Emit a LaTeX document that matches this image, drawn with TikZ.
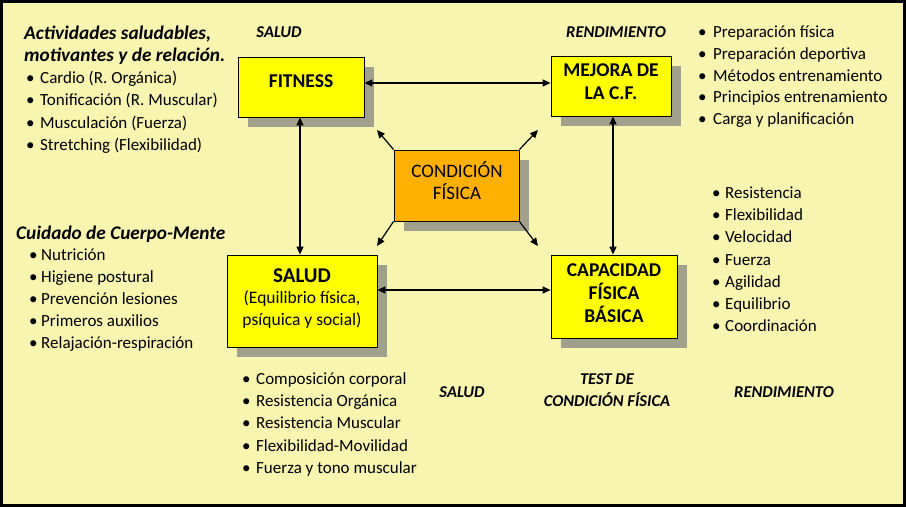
\documentclass[tikz,border=0pt]{standalone}
\usepackage{fontspec}
\setmainfont{Carlito}
\usetikzlibrary{arrows.meta,shadows}
\definecolor{bg}{RGB}{247,245,176}
\definecolor{boxyellow}{RGB}{255,255,0}
\definecolor{boxorange}{RGB}{255,176,0}
\definecolor{shadowgray}{RGB}{160,160,140}
\tikzset{
  cbox/.style={draw=black, line width=0.8pt, fill=boxyellow, inner sep=0pt,
    drop shadow={shadow xshift=10pt, shadow yshift=-10pt, fill=shadowgray, opacity=1}},
  btxt/.style={anchor=base, inner sep=0pt},
  conn/.style={line width=1.2pt, {Triangle[length=8pt,width=7pt]}-{Triangle[length=8pt,width=7pt]}},
  diag/.style={line width=1.2pt, -{Triangle[length=8pt,width=7pt]}},
  item/.style={anchor=base west, inner sep=0pt, font=\fontsize{17}{20}\selectfont},
  head/.style={anchor=base west, inner sep=0pt, font=\fontsize{19.3}{22}\selectfont\bfseries\itshape},
  lbl/.style={anchor=base, inner sep=0pt, font=\fontsize{16.5}{20}\selectfont\bfseries\itshape}
}
\newcommand{\boxlines}[1]{\begin{tabular}[t]{@{}c@{}}#1\end{tabular}}
\begin{document}
\begin{tikzpicture}[x=1pt,y=-1pt]
\useasboundingbox (0,0) rectangle (906,507);
\draw[fill=bg, line width=3pt] (1.5,1.5) rectangle (904.5,505.5);

% boxes
\node[cbox, minimum width=126pt, minimum height=60pt] (fit) at (301,87) {};
\node[cbox, minimum width=120pt, minimum height=60pt] (mejora) at (611,86) {};
\node[cbox, fill=boxorange, minimum width=125pt, minimum height=71pt] (cond) at (456.5,185.5) {};
\node[cbox, minimum width=150pt, minimum height=92pt] (salud) at (302,301) {};
\node[cbox, minimum width=126pt, minimum height=83pt] (cap) at (614,296.5) {};

% box texts
\node[btxt, font=\fontsize{19.5}{23}\selectfont\bfseries] (fitT) at (301,87) {FITNESS};
\node[btxt, font=\fontsize{19.5}{23}\selectfont\bfseries] (mejoraT) at (611,76) {\boxlines{MEJORA DE\\LA C.F.}};
\node[btxt, font=\fontsize{19}{21}\selectfont] (condT) at (457,177) {\boxlines{CONDICIÓN\\FÍSICA}};
\node[btxt, font=\fontsize{17.5}{21.5}\selectfont] (saludT) at (302,282) {\boxlines{{\fontsize{21}{21.5}\selectfont\bfseries SALUD}\\(Equilibrio física,\\psíquica y social)}};
\node[btxt, font=\fontsize{19.5}{22.8}\selectfont\bfseries] (capT) at (614,276) {\boxlines{CAPACIDAD\\FÍSICA\\BÁSICA}};

% connectors
\draw[conn] (fit.east |- 0,83) -- (mejora.west |- 0,83);
\draw[conn] (salud.east |- 0,290) -- (cap.west |- 0,290);
\draw[conn] (fit.south -| 300,0) -- (salud.north -| 300,0);
\draw[conn] (mejora.south -| 613,0) -- (cap.north -| 613,0);
\coordinate (d1) at (377,130);
\coordinate (d2) at (538,130);
\coordinate (d3) at (377,246);
\coordinate (d4) at (538,246);
\draw[diag] (cond.north west) -- (d1);
\draw[diag] (cond.north east) -- (d2);
\draw[diag] (cond.south west) -- (d3);
\draw[diag] (cond.south east) -- (d4);

% labels
\node[lbl] (l1) at (279,37) {SALUD};
\node[lbl] (l2) at (616,37) {RENDIMIENTO};
\node[lbl] (l3) at (462,397) {SALUD};
\node[lbl] (l4) at (607,384) {TEST DE};
\node[lbl] (l5) at (607,406) {CONDICIÓN FÍSICA};
\node[lbl] (l6) at (784,397) {RENDIMIENTO};

% top-left list
\node[head] (h1) at (24,39.5) {Actividades saludables,};
\node[head] (h2) at (24,61.5) {motivantes y de relación.};
\foreach \t [count=\i] in {Cardio (R. Orgánica),Tonificación (R. Muscular),Musculación (Fuerza),Stretching (Flexibilidad)}
  \node[item, name=a\i] at (26,{83.5+22.3*(\i-1)}) {\makebox[14pt][l]{•}\t};

% cuidado list
\node[head] (h3) at (16,239.5) {Cuidado de Cuerpo-Mente};
\foreach \t [count=\i] in {Nutrición,Higiene postural,Prevención lesiones,Primeros auxilios,Relajación-respiración}
  \node[item, name=b\i] at (29,{260.5+22*(\i-1)}) {\makebox[12pt][l]{•}\t};

% right top list
\foreach \t [count=\i] in {Preparación física,Preparación deportiva,Métodos entrenamiento,Principios entrenamiento,Carga y planificación}
  \node[item, name=c\i] at (698,{37.5+21.8*(\i-1)}) {\makebox[15pt][l]{•}\t};

% right middle list
\foreach \t [count=\i] in {Resistencia,Flexibilidad,Velocidad,Fuerza,Agilidad,Equilibrio,Coordinación}
  \node[item, name=e\i] at (712,{198.5+22.2*(\i-1)}) {\makebox[13pt][l]{•}\t};

% bottom list
\foreach \t [count=\i] in {Composición corporal,Resistencia Orgánica,Resistencia Muscular,Flexibilidad-Movilidad,Fuerza y tono muscular}
  \node[item, name=f\i] at (242,{384.5+22.2*(\i-1)}) {\makebox[14pt][l]{•}\t};
\end{tikzpicture}
\end{document}
